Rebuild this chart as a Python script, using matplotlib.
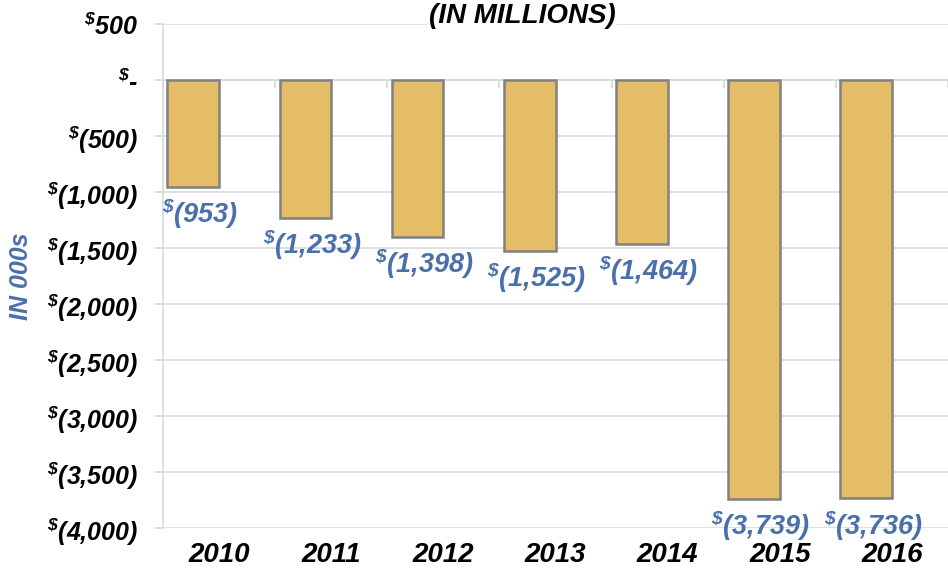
import matplotlib
matplotlib.use("Agg")
import matplotlib.pyplot as plt
from matplotlib.ticker import FixedLocator, FuncFormatter

# Annual net results (thousands of dollars)
years = ["2010", "2011", "2012", "2013", "2014", "2015", "2016"]
values = [-953, -1233, -1398, -1525, -1464, -3739, -3736]
y_ticks = [500, 0, -500, -1000, -1500, -2000, -2500, -3000, -3500, -4000]

BAR_COLOR = "#E4BD66"
EDGE_COLOR = "#808080"
GRID_COLOR = "#D9D9D9"
LABEL_BLUE = "#4A70AC"
FONT = "Liberation Sans"

plt.rcParams["font.family"] = [FONT, "DejaVu Sans"]
plt.rcParams["mathtext.fontset"] = "custom"
plt.rcParams["mathtext.rm"] = f"{FONT}:bold:italic"
plt.rcParams["mathtext.it"] = f"{FONT}:bold:italic"
plt.rcParams["mathtext.bf"] = f"{FONT}:bold:italic"

W, H = 948, 572
fig = plt.figure(figsize=(W / 100, H / 100), dpi=100)

# Axes: left edge at x=163 px, fixed px per category, plot runs past the right border
cat_px = 113.5
left_px, top_px, bottom_px = 163, 24, 528
ax = fig.add_axes([left_px / W, 1 - bottom_px / H,
                   (W - left_px) / W, (bottom_px - top_px) / H])
visible_cats = (W - left_px) / cat_px
ax.set_xlim(-0.5, -0.5 + visible_cats)
ax.set_ylim(-4000, 500)


def money(v):
    if v == 0:
        return r"$^{\$}$-"
    if v < 0:
        return r"$^{\$}$" + f"({abs(int(v)):,})"
    return r"$^{\$}$" + f"{int(v):,}"


offset = -0.23
width = 0.46
xs = [i + offset for i in range(len(years))]
bars = ax.bar(xs, values, width=width, color=BAR_COLOR, edgecolor=EDGE_COLOR,
              linewidth=1.8, zorder=3)

for x, v in zip(xs, values):
    ax.annotate(money(v), xy=(x + 0.06, v), xytext=(0, -7),
                textcoords="offset points", ha="center", va="top",
                fontsize=19.5, fontweight="bold", fontstyle="italic",
                color=LABEL_BLUE, zorder=4)

# Horizontal gridlines and y axis
ax.yaxis.set_major_locator(FixedLocator(y_ticks))
ax.yaxis.set_major_formatter(FuncFormatter(lambda v, p: money(v)))
ax.grid(axis="y", color=GRID_COLOR, linewidth=1.2, zorder=0)
ax.tick_params(axis="y", direction="out", length=6, width=1.2, color=GRID_COLOR,
               pad=12, labelsize=18)
for lab in ax.get_yticklabels():
    lab.set_fontweight("bold")
    lab.set_fontstyle("italic")

for side in ["top", "right"]:
    ax.spines[side].set_visible(False)
ax.spines["left"].set_color(GRID_COLOR)
ax.spines["left"].set_linewidth(1.2)

# Category axis line sits at zero with boundary ticks
ax.spines["bottom"].set_position(("data", 0))
ax.spines["bottom"].set_color(GRID_COLOR)
ax.spines["bottom"].set_linewidth(1.2)
ax.set_xticks([i - 0.5 for i in range(len(years) + 1)])
ax.tick_params(axis="x", direction="out", length=6, width=1.2, color=GRID_COLOR,
               labelbottom=False)

# Year labels along the bottom edge
sec = ax.secondary_xaxis(0.0)
sec.set_xticks(range(len(years)))
sec.set_xticklabels(years, fontsize=20, fontweight="bold", fontstyle="italic")
sec.tick_params(length=0, pad=10)
sec.spines["bottom"].set_visible(False)

ax.set_ylabel("IN 000s", fontsize=18, fontweight="bold", fontstyle="italic",
              color=LABEL_BLUE, labelpad=6)
ax.yaxis.set_label_coords(-(left_px - 33) / (W - left_px), 0.5)

fig.text(522 / W, 1 - 16 / H, "(IN MILLIONS)", ha="center", va="center",
         fontsize=20, fontweight="bold", fontstyle="italic", color="black",
         bbox=dict(facecolor="white", edgecolor="none", pad=1), zorder=5)

fig.savefig("out.png", dpi=100)
